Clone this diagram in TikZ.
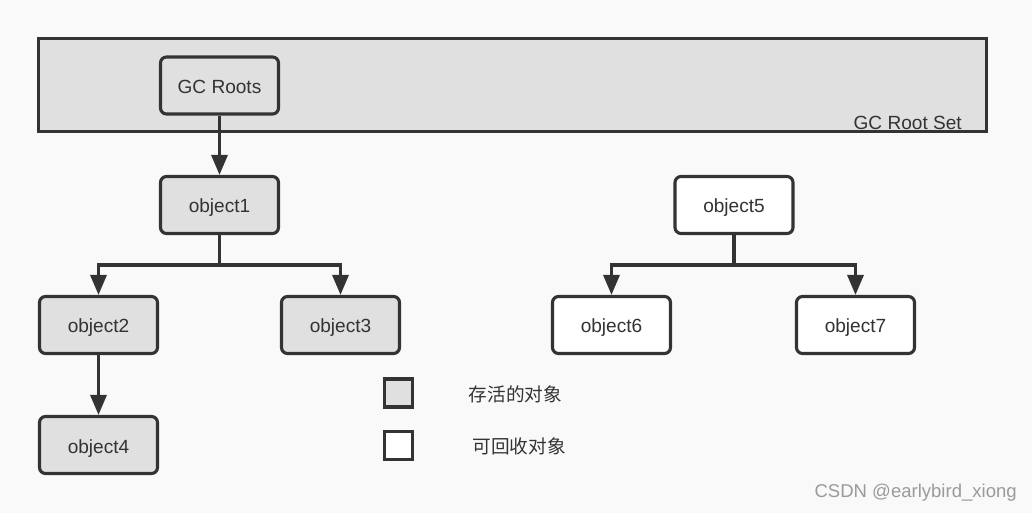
\documentclass[tikz,border=0pt]{standalone}
\usepackage{fontspec}
\setmainfont{Liberation Sans}
\newfontfamily\cjk{Noto Sans CJK SC}
\usetikzlibrary{arrows.meta}
\definecolor{bg}{HTML}{F9F9F9}
\definecolor{live}{HTML}{E0E0E0}
\definecolor{ink}{HTML}{333333}
\definecolor{wm}{HTML}{9A9A9A}
\begin{document}
\begin{tikzpicture}[x=0.75pt,y=-0.75pt,
  obj/.style={draw=ink, line width=2.3pt, rounded corners=4.5pt,
    minimum width=88.5pt, minimum height=42.75pt, inner sep=0pt,
    text height=12pt, text depth=0pt,
    font=\fontsize{14.3}{17}\selectfont, text=ink},
  alive/.style={obj, fill=live},
  dead/.style={obj, fill=white},
  legendbox/.style={draw=ink, line width=2.3pt, minimum width=21pt, minimum height=21pt, inner sep=0pt},
  legendtext/.style={font=\cjk\fontsize{14}{17}\selectfont, text=ink, inner sep=0pt},
  conn/.style={draw=ink, line width=2.4pt, -{Triangle[length=15pt,width=12pt]}}]
\useasboundingbox[fill=bg] (0,0) rectangle (1032,513);
% root set
\node[draw=ink, line width=2.3pt, fill=live, minimum width=711pt, minimum height=69.75pt, inner sep=0pt] (set) at (512.5,85) {};
\node[anchor=base east, font=\fontsize{14.3}{17}\selectfont, text=ink, inner sep=0pt] (setlabel) at (962,130) {GC Root Set};
\node[alive] (roots) at (219.5,85.5) {GC Roots};
% objects
\node[alive] (o1) at (219.5,205) {object1};
\node[alive] (o2) at (98.5,325) {object2};
\node[alive] (o3) at (340.5,325) {object3};
\node[alive] (o4) at (98.5,445) {object4};
\node[dead] (o5) at (734,205) {object5};
\node[dead] (o6) at (611.5,325) {object6};
\node[dead] (o7) at (855.5,325) {object7};
% connectors
\coordinate (j1) at (219.5,265);
\coordinate (j5) at (734,265);
\draw[conn] (roots.south) -- (o1.north);
\draw[conn] (o1.south) -- (j1) -| (o2.north);
\draw[conn] (j1) -| (o3.north);
\draw[conn] (o2.south) -- (o4.north);
\draw[conn] (o5.south) -- (j5) -| (o6.north);
\draw[conn] (j5) -| (o7.north);
% legend
\node[legendbox, fill=live] (lg1) at (398.5,393) {};
\node[legendbox, fill=white] (lg2) at (398.5,445.5) {};
\node[legendtext] (lt1) at (515.5,394) {存活的对象};
\node[legendtext] (lt2) at (519,446.5) {可回收对象};
% watermark
\node[anchor=east, font=\fontsize{13.9}{16}\selectfont, text=wm, inner sep=0pt] (wmark) at (1017,493) {CSDN @earlybird\_xiong};
\end{tikzpicture}
\end{document}
